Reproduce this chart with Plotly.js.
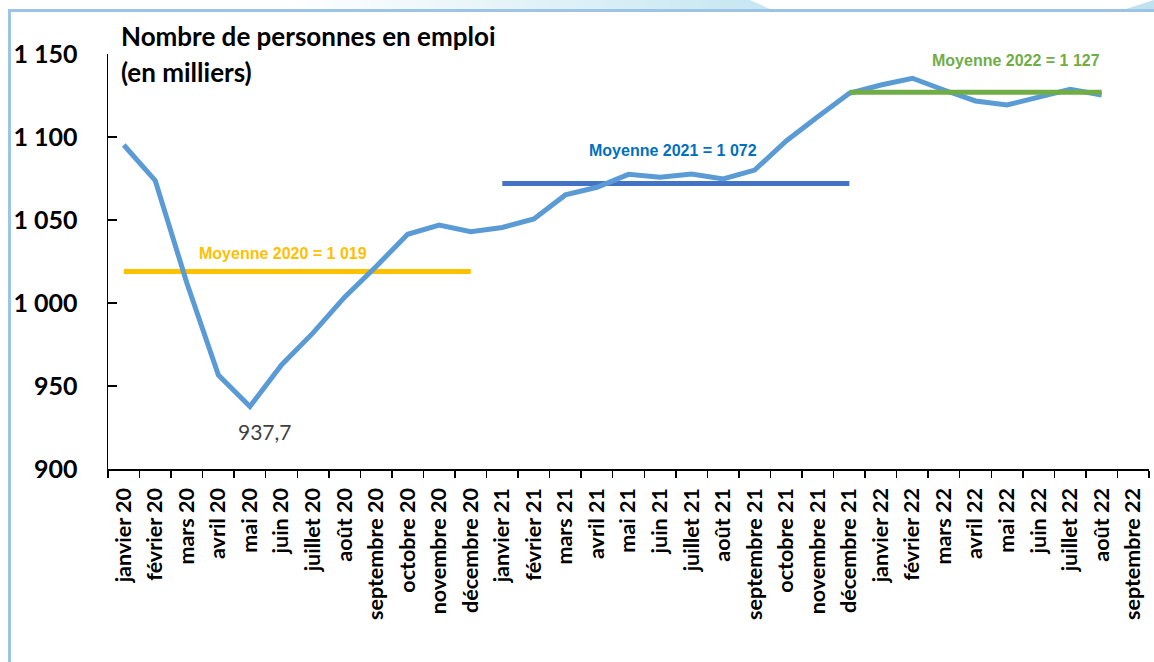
<!DOCTYPE html>
<html>
<head>
<meta charset="utf-8">
<script src="https://cdn.plot.ly/plotly-3.0.1.min.js"></script>
<style>
  html, body { margin:0; padding:0; background:#ffffff; width:1154px; height:662px; overflow:hidden; }
  #frame { position:absolute; left:8px; top:9px; width:1200px; height:700px;
           border-left:3px solid #9DC3E6; border-top:3px solid #9DC3E6; box-sizing:border-box; }
  #strip { position:absolute; left:290px; top:0; width:480px; height:9px;
           background:linear-gradient(to right, rgba(190,227,240,0) 0%, #C5E6F1 100%);
           clip-path:polygon(0 0, 460px 0, 480px 9px, 0 9px); }
  #tri { position:absolute; left:1126px; top:0; width:28px; height:9px; background:#BFE2EE;
         clip-path:polygon(100% 0, 100% 100%, 0 100%); }
  #chart { position:absolute; left:0; top:0; width:1154px; height:662px; }
</style>
</head>
<body>
<div id="strip"></div>
<div id="tri"></div>
<div id="frame"></div>
<div id="chart"></div>
<script>
const months = ['janvier 20','février 20','mars 20','avril 20','mai 20','juin 20','juillet 20','août 20','septembre 20','octobre 20','novembre 20','décembre 20',
  'janvier 21','février 21','mars 21','avril 21','mai 21','juin 21','juillet 21','août 21','septembre 21','octobre 21','novembre 21','décembre 21',
  'janvier 22','février 22','mars 22','avril 22','mai 22','juin 22','juillet 22','août 22','septembre 22'];
const employment = [1095.2,1073.7,1012,956.6,937.7,962.7,982,1003.5,1022,1041.4,1047,1043,
  1045.5,1050.6,1065.1,1069.7,1077.5,1075.7,1077.7,1074.7,1080.1,1097.6,1112.2,1126.3,
  1131.3,1135.4,1128.3,1121.7,1119.3,1123.9,1128.7,1125.3,null];
const avgYears = ['2020','2021','2022'];
const avgValues = [1019,1072,1127];
const avgStart = ['janvier 20','janvier 21','décembre 21'];
const avgEnd = ['décembre 20','décembre 21','août 22'];
const avgColors = ['#FFC000','#4472C4','#70AD47'];
const avgTextColors = ['#FFC000','#0070C0','#70AD47'];
const yTickVals = [900,950,1000,1050,1100,1150];
const yTickText = ['900','950','1 000','1 050','1 100','1 150'];
const minLabel = '937,7';

const traces = [];
for (let i = 0; i < avgValues.length; i++) {
  traces.push({x:[avgStart[i], avgEnd[i]], y:[avgValues[i], avgValues[i]], mode:'lines', type:'scatter',
    line:{color:avgColors[i], width:5}, hoverinfo:'skip', cliponaxis:false});
}
traces.splice(2, 0, {x:months, y:employment, mode:'lines', type:'scatter',
  line:{color:'#5B9BD5', width:5}, connectgaps:false, cliponaxis:false});

const fmt = v => { const s = String(Math.round(v)); return s.length > 3 ? s.slice(0, s.length-3) + ' ' + s.slice(-3) : s; };
const avgLabelPos = [[5.05, 1030.1], [17.4, 1091.8], [28.28, 1145.8]];
const annotations = avgValues.map((v, i) => ({
  x: avgLabelPos[i][0], y: avgLabelPos[i][1], xref:'x', yref:'y', showarrow:false,
  text:'Moyenne ' + avgYears[i] + ' = ' + fmt(v), xanchor:'center', yanchor:'middle',
  font:{family:'Liberation Sans, Arial', size:16, color:avgTextColors[i], weight:'bold'}
}));
const minIdx = employment.indexOf(Math.min(...employment.filter(v => v !== null)));
annotations.push({x: months[minIdx], y: employment[minIdx], xref:'x', yref:'y', showarrow:false,
  text:minLabel, xanchor:'center', yanchor:'middle', xshift:15, yshift:-25,
  font:{family:'Lato', size:21, color:'#404040'}});
annotations.push({x:0.0105, y:1.0434, xref:'paper', yref:'paper', showarrow:false, xanchor:'left', yanchor:'middle',
  text:'Nombre de personnes en emploi', font:{family:'Lato', size:26, color:'#000', weight:'bold'}});
annotations.push({x:0.0105, y:0.957, xref:'paper', yref:'paper', showarrow:false, xanchor:'left', yanchor:'middle',
  text:'(en milliers)', font:{family:'Lato', size:26, color:'#000', weight:'bold'}});

const layout = {
  width:1154, height:662,
  margin:{l:108, r:5, t:54, b:193, pad:0},
  paper_bgcolor:'rgba(0,0,0,0)', plot_bgcolor:'rgba(0,0,0,0)',
  showlegend:false,
  xaxis:{type:'category', categoryorder:'array', categoryarray:months, range:[-0.5, 32.5],
    tickson:'boundaries', ticks:'outside', ticklen:7, tickwidth:1.5, tickcolor:'#000',
    showline:true, linecolor:'#000', linewidth:1.5, showgrid:false, zeroline:false,
    tickangle:-90, tickfont:{family:'Lato', size:21.5, color:'#000', weight:'bold'}, ticklabelstandoff:9},
  yaxis:{range:[900,1150], tickvals:yTickVals, ticktext:yTickText, ticks:'inside', ticklen:9, tickwidth:1.5, tickcolor:'#000',
    showline:true, linecolor:'#000', linewidth:1.5, showgrid:false, zeroline:false,
    tickfont:{family:'Lato', size:25, color:'#000', weight:'bold'}, ticklabelstandoff:24},
  annotations: annotations
};
Plotly.newPlot('chart', traces, layout, {displayModeBar:false, staticPlot:true});
</script>
</body>
</html>
